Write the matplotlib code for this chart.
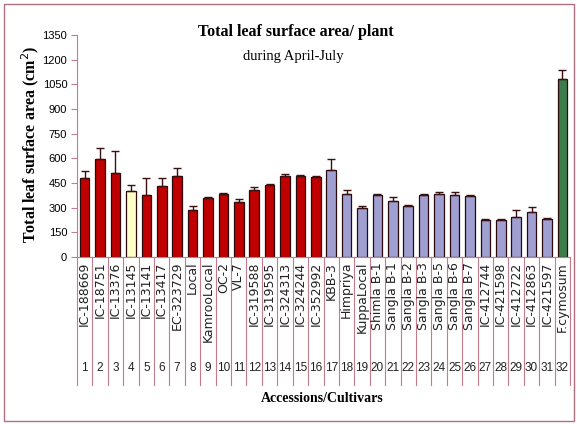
import matplotlib
matplotlib.use("Agg")
import matplotlib.pyplot as plt
from matplotlib.patches import Rectangle
import matplotlib.transforms as mtransforms

accessions = ["IC-188669", "IC-18751", "IC-13376", "IC-13145", "IC-13141", "IC-13417",
              "EC-323729", "Local", "KamrooLocal", "OC-2", "VL-7", "IC-319588",
              "IC-319595", "IC-324313", "IC-324244", "IC-352992", "KBB-3", "Himpriya",
              "KuppaLocal", "Shimla B-1", "Sangla B-1", "Sangla B-2", "Sangla B-3",
              "Sangla B-5", "Sangla B-6", "Sangla B-7", "IC-412744", "IC-421598",
              "IC-412722", "IC-412863", "IC-421597", "F.cymosum"]
numbers = [str(i) for i in range(1, 33)]
leaf_area = [480, 595, 510, 400, 378, 432, 490, 288, 360, 385, 333, 408, 435, 495,
             490, 488, 528, 385, 296, 375, 343, 308, 378, 385, 378, 372, 225, 225,
             242, 272, 232, 1080]
leaf_area_err = [45, 65, 135, 40, 105, 50, 50, 20, 5, 5, 20, 20, 8, 10, 10, 5, 65,
                 25, 15, 5, 20, 10, 5, 10, 20, 5, 3, 3, 45, 30, 8, 55]
groups = ["r", "r", "r", "y", "r", "r", "r", "r", "r", "r", "r", "r", "r", "r", "r",
          "r", "p", "p", "p", "p", "p", "p", "p", "p", "p", "p", "p", "p", "p", "p",
          "p", "g"]
y_ticks = [0, 150, 300, 450, 600, 750, 900, 1050, 1200, 1350]

group_colors = {"r": "#C00000", "y": "#FFFFC8", "p": "#9F9FD2", "g": "#3C7D4C"}
line_col = "#C27C8C"
serif = "Liberation Serif"
sans = "Liberation Sans"

fig = plt.figure(figsize=(5.77, 4.24), dpi=100)
ax = fig.add_axes([0.1334, 0.3939, 0.8546, 0.5236])

x = list(range(len(leaf_area)))
colors = [group_colors[g] for g in groups]
ax.bar(x, leaf_area, width=0.62, color=colors, edgecolor="#2a0a0a", linewidth=0.9,
       zorder=2)
ax.errorbar(x, leaf_area, yerr=[[0] * len(leaf_area_err), leaf_area_err], fmt="none",
            ecolor="#3a1010", elinewidth=1.0, capsize=3, capthick=1.0, zorder=3)

ax.set_xlim(-0.5, len(leaf_area) - 0.5)
ax.set_ylim(0, 1350)
ax.set_yticks(y_ticks)
ax.set_yticklabels([str(v) for v in y_ticks], fontfamily=sans, fontsize=8)
ax.tick_params(axis="y", direction="out", length=4, width=0.8, color=line_col, pad=3)
ax.set_xticks([])
for s in ["top", "right"]:
    ax.spines[s].set_visible(False)
ax.spines["left"].set_color(line_col)
ax.spines["bottom"].set_color(line_col)

# category table below the axis: separators, names and serial numbers
trans = mtransforms.blended_transform_factory(ax.transData, ax.transAxes)
for k in range(len(leaf_area) + 1):
    ax.plot([k - 0.5, k - 0.5], [0, -0.577], transform=trans, color=line_col,
            lw=0.8, clip_on=False)
for i, (name, num) in enumerate(zip(accessions, numbers)):
    ax.text(i, -0.022, name, transform=trans, rotation=90, ha="center", va="top",
            fontfamily="DejaVu Sans", fontsize=9, color="#222222")
    ax.text(i, -0.5, num, transform=trans, ha="center", va="center",
            fontfamily=sans, fontsize=8.5, color="#222222")

fig.text(0.513, 0.925, "Total leaf surface area/ plant", ha="center", va="center",
         fontfamily=serif, fontweight="bold", fontsize=11.5)
fig.text(0.508, 0.866, "during April-July", ha="center", va="center",
         fontfamily=serif, fontsize=10.5)
fig.text(0.052, 0.66, "Total leaf surface area (cm$^2$)", rotation=90, ha="center",
         va="center", fontfamily=serif, fontweight="bold", fontsize=11.5)
fig.text(0.558, 0.061, "Accessions/Cultivars", ha="center", va="center",
         fontfamily=serif, fontweight="bold", fontsize=10)

fig.add_artist(Rectangle((0.007, 0.007), 0.988, 0.984, transform=fig.transFigure,
                         fill=False, edgecolor="#B07080", lw=1.0))

fig.savefig("out.png", dpi=100)
